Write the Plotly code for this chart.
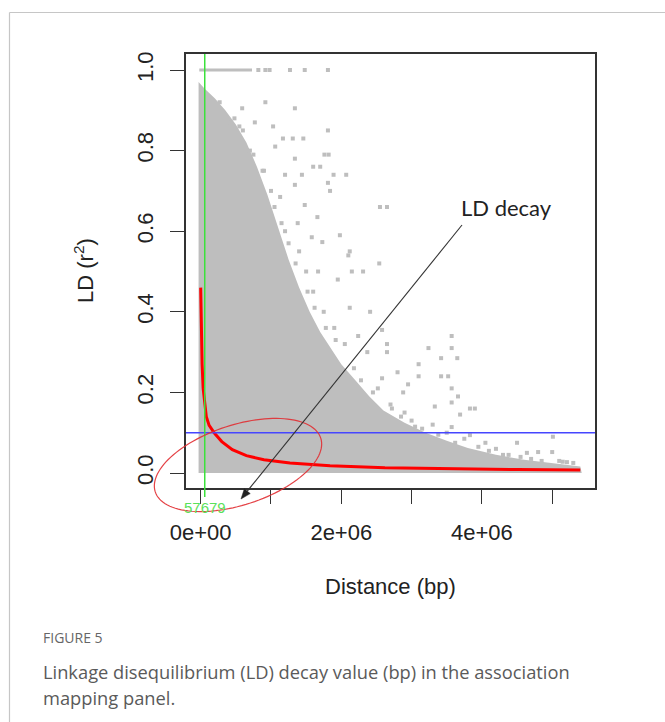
import math
import plotly.graph_objects as go

# ---------------- data ----------------
# upper envelope of the dense r^2 cloud (distance in Mb, r^2)
cloud_dist_mb = [-0.03, -0.03, 0.05, 0.2, 0.35, 0.5, 0.65, 0.8, 0.95, 1.1, 1.25, 1.4, 1.55, 1.7,
                 1.85, 2.0, 2.2, 2.4, 2.6, 2.9, 3.2, 3.5, 3.8, 4.2, 4.6, 5.0, 5.4, 5.42]
cloud_r2 = [0.0, 0.97, 0.955, 0.93, 0.9, 0.865, 0.82, 0.76, 0.69, 0.61, 0.53, 0.46, 0.40, 0.35,
            0.31, 0.27, 0.23, 0.19, 0.155, 0.125, 0.10, 0.08, 0.062, 0.045, 0.033, 0.024, 0.016, 0.0]

# streak of pairs with r^2 = 1
streak_dist_mb = [-0.02, 0.73]
streak_r2 = [1.0, 1.0]

# sparse pairs outside the dense cloud
pts_dist_mb = [0.82, 0.92, 0.98, 1.27, 1.48, 1.81,
               0.27, 0.92, 1.34, 0.59, 0.42, 0.77, 1.03, 1.17, 1.31, 1.46, 1.06, 1.34, 1.60, 1.70,
               1.44, 1.20, 1.34, 1.13, 1.48, 1.66, 1.38, 1.20, 1.58, 1.73,
               1.81, 1.76, 1.82, 1.89, 2.07, 1.81, 1.84, 2.55, 2.65, 1.98, 2.12, 2.31, 2.54,
               2.15, 2.41, 2.24, 2.12, 2.58, 2.37, 1.95, 1.67, 2.10,
               3.57, 3.24, 3.57, 3.10, 3.65, 3.42, 3.10, 3.42, 3.52, 3.57, 3.66, 2.88, 3.33, 3.57,
               3.83, 3.90, 3.69, 5.01, 4.50, 4.05, 4.64, 4.80, 5.00, 5.21, 3.83, 3.57, 2.65, 2.65, 2.58,
               2.70, 2.90, 3.00, 2.80, 2.95, 3.30, 3.50, 3.75, 4.20, 4.30, 4.70, 5.10, 5.30,
               1.40, 1.50, 1.60, 1.75, 1.90, 2.05, 0.60, 0.70, 0.90, 1.00,
               1.05, 1.15, 1.25, 1.35, 1.52, 1.62, 1.78, 1.92, 2.18, 2.28, 2.45, 2.52, 2.72, 2.85,
               3.05, 3.15, 3.38, 3.62, 3.95, 4.10, 4.38, 4.55, 4.85, 5.15, 0.75, 0.88, 0.55, 0.48]
pts_r2 = [1.0, 1.0, 1.0, 1.0, 1.0, 1.0,
          0.92, 0.92, 0.905, 0.905, 0.87, 0.87, 0.86, 0.83, 0.83, 0.83, 0.81, 0.78, 0.76, 0.76,
          0.74, 0.74, 0.715, 0.685, 0.665, 0.635, 0.62, 0.60, 0.585, 0.573,
          0.85, 0.79, 0.79, 0.74, 0.74, 0.72, 0.70, 0.66, 0.66, 0.59, 0.55, 0.50, 0.52,
          0.50, 0.40, 0.34, 0.41, 0.355, 0.30, 0.48, 0.50, 0.54,
          0.34, 0.31, 0.31, 0.27, 0.285, 0.285, 0.24, 0.24, 0.24, 0.21, 0.19, 0.20, 0.165, 0.175,
          0.16, 0.16, 0.145, 0.09, 0.075, 0.075, 0.05, 0.052, 0.052, 0.027, 0.094, 0.114, 0.30, 0.32, 0.235,
          0.17, 0.15, 0.13, 0.25, 0.22, 0.12, 0.10, 0.085, 0.06, 0.045, 0.035, 0.03, 0.025,
          0.55, 0.50, 0.45, 0.40, 0.36, 0.32, 0.85, 0.80, 0.75, 0.70,
          0.66, 0.62, 0.57, 0.52, 0.45, 0.41, 0.36, 0.33, 0.26, 0.23, 0.2, 0.21, 0.16, 0.14,
          0.115, 0.11, 0.095, 0.075, 0.065, 0.055, 0.045, 0.04, 0.03, 0.028, 0.79, 0.75, 0.86, 0.88]

# fitted LD decay curve
fit_dist_mb = [0.0, 0.005, 0.01, 0.02, 0.035, 0.055, 0.08, 0.12, 0.2, 0.3, 0.45, 0.65, 0.9, 1.27,
               1.84, 2.62, 3.55, 4.5, 5.4]
fit_r2 = [0.46, 0.38, 0.33, 0.27, 0.21, 0.17, 0.14, 0.118, 0.098, 0.078, 0.058, 0.043, 0.033,
          0.025, 0.018, 0.013, 0.010, 0.0085, 0.0075]

ld_threshold = 0.1
decay_bp = 57679

xtick_vals = [0, 2e6, 4e6]
xtick_text = ["0e+00", "2e+06", "4e+06"]
xtick_step = 1e6
ytick_vals = [0.0, 0.2, 0.4, 0.6, 0.8, 1.0]
ytick_text = ["0.0", "0.2", "0.4", "0.6", "0.8", "1.0"]

# ---------------- layout geometry ----------------
W, H = 665, 722
L, R, T, B = 186, 595, 54, 488
xr = [-0.209e6, 5.609e6]
yr = [-0.0372, 1.0397]


def px(x):
    return (x - L) / (R - L)


def py(y):
    return (B - y) / (B - T)


def xdata_to_paper(v):
    return (v - xr[0]) / (xr[1] - xr[0])


GRAY = "#bebebe"
fig = go.Figure()

fig.add_trace(go.Scatter(x=[d * 1e6 for d in cloud_dist_mb], y=cloud_r2, mode="lines",
                         fill="toself", fillcolor=GRAY, line=dict(width=0, color=GRAY),
                         hoverinfo="skip", showlegend=False))
fig.add_trace(go.Scatter(x=[d * 1e6 for d in streak_dist_mb], y=streak_r2, mode="lines",
                         line=dict(width=3, color=GRAY), showlegend=False, hoverinfo="skip"))
fig.add_trace(go.Scatter(x=[d * 1e6 for d in pts_dist_mb], y=pts_r2, mode="markers",
                         marker=dict(size=4, color=GRAY, symbol="square"),
                         showlegend=False, hoverinfo="skip"))
fig.add_trace(go.Scatter(x=[d * 1e6 for d in fit_dist_mb], y=fit_r2, mode="lines",
                         line=dict(width=3, color="#ff0000"),
                         showlegend=False, hoverinfo="skip"))

shapes = []
shapes.append(dict(type="line", xref="paper", yref="y", x0=0, x1=1, y0=ld_threshold, y1=ld_threshold,
                   line=dict(color="rgb(70,70,255)", width=1.4), layer="above"))
xg = xdata_to_paper(decay_bp)
shapes.append(dict(type="line", xref="paper", yref="paper", x0=xg, x1=xg, y0=py(497), y1=1,
                   line=dict(color="rgb(60,225,60)", width=1.5), layer="above"))

# rotated ellipse
cx, cy, a, b, th = 238, 465, 87, 40, math.radians(18)
pts = []
for i in range(121):
    t = 2 * math.pi * i / 120
    ex = a * math.cos(t)
    ey = b * math.sin(t)
    X = cx + ex * math.cos(th) + ey * math.sin(th)
    Y = cy - ex * math.sin(th) + ey * math.cos(th)
    pts.append((px(X), py(Y)))
path = "M " + " L ".join(f"{p[0]:.5f},{p[1]:.5f}" for p in pts) + " Z"
shapes.append(dict(type="path", xref="paper", yref="paper", path=path,
                   line=dict(color="rgba(225,45,50,0.9)", width=1.2), layer="above"))

# arrow (line + filled head)
tail = (462, 225)
tip = (241, 499)
vx, vy = tip[0] - tail[0], tip[1] - tail[1]
ln = math.hypot(vx, vy)
ux, uy = vx / ln, vy / ln
hl, hw = 10, 3.8
bx, by = tip[0] - hl * ux, tip[1] - hl * uy
nx, ny = -uy, ux
shapes.append(dict(type="line", xref="paper", yref="paper", x0=px(tail[0]), y0=py(tail[1]),
                   x1=px(bx), y1=py(by), line=dict(color="#333333", width=1.1), layer="above"))
head = f"M {px(tip[0]):.5f},{py(tip[1]):.5f} L {px(bx + hw * nx):.5f},{py(by + hw * ny):.5f} " \
       f"L {px(bx - hw * nx):.5f},{py(by - hw * ny):.5f} Z"
shapes.append(dict(type="path", xref="paper", yref="paper", path=head, fillcolor="#222222",
                   line=dict(color="#222222", width=0.5), layer="above"))

# card border
shapes.append(dict(type="line", xref="paper", yref="paper", x0=px(9.5), x1=px(665), y0=py(12.5), y1=py(12.5),
                   line=dict(color="#c6c6c6", width=1.2)))
shapes.append(dict(type="line", xref="paper", yref="paper", x0=px(9.5), x1=px(9.5), y0=py(12.5), y1=py(722),
                   line=dict(color="#c6c6c6", width=1.2)))

ann = []
ann.append(dict(xref="paper", yref="paper", x=px(506), y=py(207), text="LD decay", showarrow=False,
                font=dict(family="Lato", size=22, color="#222222"), xanchor="center", yanchor="middle"))
ann.append(dict(xref="paper", yref="paper", x=xg, y=py(507), text=str(decay_bp), showarrow=False,
                font=dict(family="Liberation Sans", size=15, color="rgb(90,225,90)"),
                xanchor="center", yanchor="middle"))
ann.append(dict(xref="paper", yref="paper", x=0.5, y=py(586), text="Distance (bp)", showarrow=False,
                font=dict(family="Liberation Sans", size=22, color="#222222"),
                xanchor="center", yanchor="middle"))
ann.append(dict(xref="paper", yref="paper", x=px(84), y=0.5, text="LD (r<sup>2</sup>)", showarrow=False,
                textangle=-90, font=dict(family="Liberation Sans", size=22, color="#222222"),
                xanchor="center", yanchor="middle"))
ann.append(dict(xref="paper", yref="paper", x=px(41), y=py(637), text="FIGURE 5", showarrow=False,
                font=dict(family="Open Sans", size=14, color="#666666"), xanchor="left", yanchor="middle"))
ann.append(dict(xref="paper", yref="paper", x=px(41), y=py(671),
                text="Linkage disequilibrium (LD) decay value (bp) in the association",
                showarrow=False, font=dict(family="Open Sans", size=18.3, color="#5a5a5a"),
                xanchor="left", yanchor="middle"))
ann.append(dict(xref="paper", yref="paper", x=px(41), y=py(697), text="mapping panel.",
                showarrow=False, font=dict(family="Open Sans", size=18.3, color="#5a5a5a"),
                xanchor="left", yanchor="middle"))

fig.update_layout(
    width=W, height=H,
    margin=dict(l=L, r=W - R, t=T, b=H - B, pad=0),
    paper_bgcolor="white", plot_bgcolor="white",
    shapes=shapes, annotations=ann, showlegend=False,
    xaxis=dict(range=xr, tickvals=xtick_vals, ticktext=xtick_text, ticks="outside", ticklen=14,
               tickwidth=1.4, tickcolor="#333333", showgrid=False, zeroline=False,
               showline=True, linecolor="#333333", linewidth=1.5, mirror=True,
               tickfont=dict(family="Liberation Sans", size=22, color="#222222"),
               ticklabelstandoff=10,
               minor=dict(tick0=0, dtick=xtick_step, ticks="outside", ticklen=14, tickwidth=1.4,
                          tickcolor="#333333", showgrid=False)),
    yaxis=dict(range=yr, tickvals=ytick_vals, ticktext=ytick_text, ticks="outside", ticklen=14,
               tickwidth=1.4, tickcolor="#333333", showgrid=False, zeroline=False,
               showline=True, linecolor="#333333", linewidth=1.5, mirror=True, tickangle=-90,
               tickfont=dict(family="Liberation Sans", size=22, color="#222222"),
               ticklabelstandoff=8),
)

fig.write_html("out.html")
